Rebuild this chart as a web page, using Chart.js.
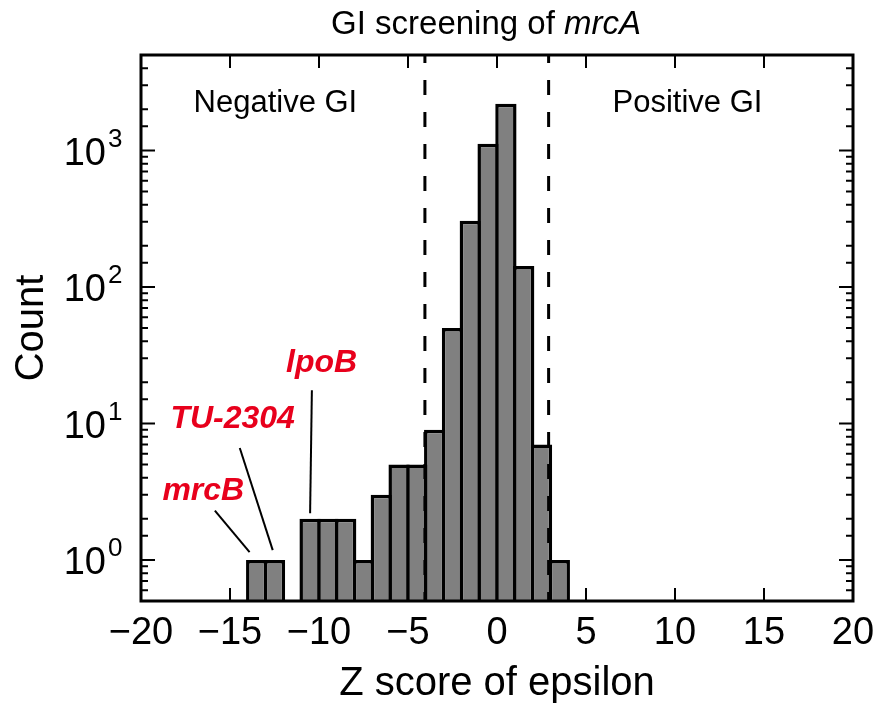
<!DOCTYPE html>
<html>
<head>
<meta charset="utf-8">
<script src="https://cdn.jsdelivr.net/npm/chart.js@4.4.1/dist/chart.umd.min.js"></script>
<style>
  html, body { margin: 0; padding: 0; background: #fff; }
  #wrap { width: 874px; height: 706px; }
</style>
</head>
<body>
<div id="wrap"><canvas id="giChart"></canvas></div>
<script>
// histogram of Z scores, 1-unit bins (centre of each bin) and their counts
var binCenters = [-13.5, -12.5, -11.5, -10.5, -9.5, -8.5, -7.5, -6.5, -5.5, -4.5, -3.5, -2.5, -1.5, -0.5, 0.5, 1.5, 2.5, 3.5];
var counts = [1, 1, null, 2, 2, 2, 1, 3, 5, 5, 9, 50, 305, 1120, 2200, 142, 7, 1];
var xTicks = [-20, -15, -10, -5, 0, 5, 10, 15, 20];
var cutoffs = [-4.05, 2.9];

var regionLabels = ['Negative GI', 'Positive GI'];
var regionLabelX = [-12.45, 10.7];

var geneNames = ['mrcB', 'TU-2304', 'lpoB'];
var geneLabelAt = [[-16.5, 3.2], [-14.85, 10.7], [-9.85, 27.5]];
var geneLines = [
  [[-15.85, 2.3], [-13.9, 1.14]],
  [[-14.45, 6.6], [-12.6, 1.18]],
  [[-10.4, 17.5], [-10.5, 2.2]]
];

var FONT = '"Liberation Sans", Arial, sans-serif';

var decor = {
  id: 'decor',
  afterDatasetsDraw: function(chart) {
    var ctx = chart.ctx;
    var a = chart.chartArea;
    var xs = chart.scales.x;
    var ys = chart.scales.y;
    ctx.save();

    // dashed cut-off lines
    ctx.strokeStyle = '#000';
    ctx.lineWidth = 3;
    ctx.setLineDash([15, 17]);
    ctx.lineDashOffset = 7;
    cutoffs.forEach(function(c) {
      var px = xs.getPixelForValue(c);
      ctx.beginPath();
      ctx.moveTo(px, a.top);
      ctx.lineTo(px, a.bottom);
      ctx.stroke();
    });
    ctx.setLineDash([]);

    // inward ticks on all four sides
    ctx.lineWidth = 2;
    xs.ticks.forEach(function(t) {
      var px = xs.getPixelForValue(t.value);
      ctx.beginPath();
      ctx.moveTo(px, a.bottom); ctx.lineTo(px, a.bottom - 13);
      ctx.moveTo(px, a.top); ctx.lineTo(px, a.top + 13);
      ctx.stroke();
    });
    ys.ticks.forEach(function(t) {
      var lg = Math.log10(t.value);
      var major = Math.abs(lg - Math.round(lg)) < 1e-6;
      var len = major ? 14 : 7;
      var py = ys.getPixelForValue(t.value);
      ctx.beginPath();
      ctx.moveTo(a.left, py); ctx.lineTo(a.left + len, py);
      ctx.moveTo(a.right, py); ctx.lineTo(a.right - len, py);
      ctx.stroke();
    });

    // frame
    ctx.lineWidth = 3;
    ctx.strokeRect(a.left, a.top, a.right - a.left, a.bottom - a.top);

    // y tick labels as 10^n
    ctx.fillStyle = '#000';
    ys.ticks.forEach(function(t) {
      var lg = Math.log10(t.value);
      if (Math.abs(lg - Math.round(lg)) > 1e-6) return;
      var py = ys.getPixelForValue(t.value);
      ctx.font = '38px ' + FONT;
      ctx.textAlign = 'right';
      ctx.textBaseline = 'middle';
      ctx.fillText('10', a.left - 35, py + 4);
      ctx.font = '26px ' + FONT;
      ctx.textAlign = 'left';
      ctx.fillText(String(Math.round(lg)), a.left - 33, py - 11);
    });

    // title with italic gene name
    ctx.textBaseline = 'alphabetic';
    ctx.textAlign = 'left';
    var t1 = 'GI screening of ', t2 = 'mrcA';
    ctx.font = '33px ' + FONT;
    var w1 = ctx.measureText(t1).width;
    ctx.font = 'italic 33px ' + FONT;
    var w2 = ctx.measureText(t2).width;
    var tx = 486 - (w1 + w2) / 2;
    ctx.font = '33px ' + FONT;
    ctx.fillText(t1, tx, 34);
    ctx.font = 'italic 33px ' + FONT;
    ctx.fillText(t2, tx + w1, 34);

    // region labels
    ctx.font = '31px ' + FONT;
    ctx.textAlign = 'center';
    regionLabels.forEach(function(s, i) {
      ctx.fillText(s, xs.getPixelForValue(regionLabelX[i]), a.top + 57);
    });

    // gene call-outs
    ctx.lineWidth = 2;
    geneLines.forEach(function(l) {
      ctx.beginPath();
      ctx.moveTo(xs.getPixelForValue(l[0][0]), ys.getPixelForValue(l[0][1]));
      ctx.lineTo(xs.getPixelForValue(l[1][0]), ys.getPixelForValue(l[1][1]));
      ctx.stroke();
    });
    ctx.fillStyle = '#e8001c';
    ctx.font = 'italic bold 32px ' + FONT;
    ctx.textBaseline = 'middle';
    geneNames.forEach(function(s, i) {
      ctx.fillText(s, xs.getPixelForValue(geneLabelAt[i][0]), ys.getPixelForValue(geneLabelAt[i][1]));
    });

    ctx.restore();
  }
};

var ctx = document.getElementById('giChart').getContext('2d');
var giChart = new Chart(ctx, {
  type: 'bar',
  data: {
    datasets: [{
      data: binCenters.map(function(c, i) { return { x: c, y: counts[i] }; }),
      backgroundColor: '#808080',
      borderColor: '#000',
      borderWidth: 3.5,
      barPercentage: 1.197,
      categoryPercentage: 1
    }]
  },
  options: {
    responsive: true,
    maintainAspectRatio: false,
    animation: false,
    layout: { padding: { top: 55, right: 21, left: 0, bottom: 0 } },
    plugins: {
      legend: { display: false },
      tooltip: { enabled: false }
    },
    scales: {
      x: {
        type: 'linear',
        min: -20,
        max: 20,
        offset: false,
        grid: { display: false, drawTicks: false },
        border: { display: false },
        afterBuildTicks: function(s) {
          s.ticks = xTicks.map(function(v) { return { value: v }; });
        },
        ticks: {
          color: '#000',
          font: { family: FONT, size: 38 },
          padding: 10,
          maxRotation: 0,
          autoSkip: false,
          callback: function(v) { return String(v).replace('-', '\u2212'); }
        },
        title: {
          display: true,
          text: 'Z score of epsilon',
          color: '#000',
          font: { family: FONT, size: 40 },
          padding: { top: 0, bottom: -2 }
        },
        afterFit: function(s) {
          s.height = 105;
          s.paddingLeft = 0;
          s.paddingRight = 0;
        }
      },
      y: {
        type: 'logarithmic',
        min: 0.5,
        max: 5000,
        grid: { display: false, drawTicks: false },
        border: { display: false },
        ticks: { display: false },
        title: {
          display: true,
          text: 'Count',
          color: '#000',
          font: { family: FONT, size: 40 },
          padding: { top: 8, bottom: 0 }
        },
        afterFit: function(s) { s.width = 141; }
      }
    }
  },
  plugins: [decor]
});
</script>
</body>
</html>
